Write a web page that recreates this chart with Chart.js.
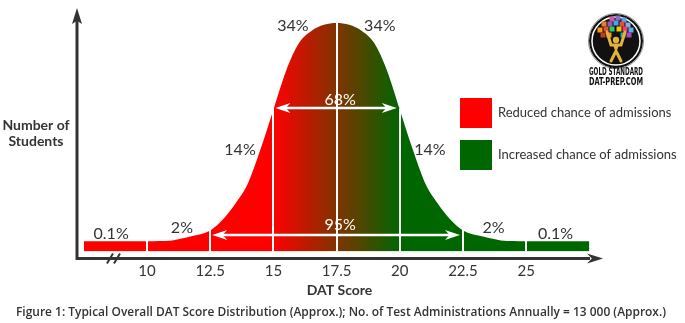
<!DOCTYPE html>
<html>
<head>
<meta charset="utf-8">
<title>DAT Score Distribution</title>
<script src="https://cdn.jsdelivr.net/npm/chart.js@4.4.1/dist/chart.umd.min.js"></script>
<style>
  html, body { margin: 0; padding: 0; background: #fff; }
  #wrap { width: 685px; height: 323px; }
</style>
</head>
<body>
<div id="wrap"><canvas id="datChart" width="685" height="323"></canvas></div>
<script>
// bell curve: DAT score vs relative number of students (peak = 100)
const scores  = [7.5, 10, 10.5, 11, 11.75, 12.5, 13, 13.5, 14, 14.5, 15, 15.5, 16, 16.5, 17, 17.5,
                 18, 18.5, 19, 19.5, 20, 20.5, 21, 21.5, 22, 22.5, 23.25, 24, 24.5, 25, 27.5];
const density = [4.4, 4.4, 4.5, 4.8, 6.6, 9.2, 14, 21, 30, 45, 62, 79, 91, 96.5, 99.2, 100,
                 99.2, 96.5, 91, 79, 62, 45, 30, 21, 14, 9.2, 6.6, 4.8, 4.5, 4.4, 4.4];

const tickScores = [10, 12.5, 15, 17.5, 20, 22.5, 25];
const dividerScores = [10, 12.5, 15, 17.5, 20, 22.5, 25];

const shareLabels = ['0.1%', '2%', '14%', '34%', '34%', '14%', '2%', '0.1%'];
const spanLabels = ['68%', '95%'];
const spanFrom = [15, 12.5];
const spanTo = [20, 22.5];

const legendLabels = ['Reduced chance of admissions', 'Increased chance of admissions'];
const legendColors = ['#ff0000', '#006600'];

const caption = 'Figure 1: Typical Overall DAT Score Distribution (Approx.); No. of Test Administrations Annually = 13 000 (Approx.)';

const INK = '#333333';
Chart.defaults.font.family = 'Lato, "Open Sans", sans-serif';

// red -> green across the middle band
function curveFill(context) {
  const chart = context.chart;
  const x = chart.scales.x;
  if (!chart.chartArea || !x) return '#ff0000';
  const g = chart.ctx.createLinearGradient(x.getPixelForValue(15), 0, x.getPixelForValue(20), 0);
  g.addColorStop(0, '#ff0000');
  g.addColorStop(1, '#006600');
  return g;
}

function arrowHead(ctx, tipX, tipY, dir, len, half) {
  // dir: 'l','r','u'
  ctx.beginPath();
  if (dir === 'l') { ctx.moveTo(tipX, tipY); ctx.lineTo(tipX + len, tipY - half); ctx.lineTo(tipX + len * 0.7, tipY); ctx.lineTo(tipX + len, tipY + half); }
  if (dir === 'r') { ctx.moveTo(tipX, tipY); ctx.lineTo(tipX - len, tipY - half); ctx.lineTo(tipX - len * 0.7, tipY); ctx.lineTo(tipX - len, tipY + half); }
  if (dir === 'u') { ctx.moveTo(tipX, tipY); ctx.lineTo(tipX - half, tipY + len); ctx.lineTo(tipX, tipY + len * 0.8); ctx.lineTo(tipX + half, tipY + len); }
  ctx.closePath();
  ctx.fill();
}

function drawLogo(ctx, cx, cy, r) {
  ctx.save();
  ctx.fillStyle = '#111';
  ctx.beginPath(); ctx.arc(cx, cy, r, 0, Math.PI * 2); ctx.fill();
  ctx.strokeStyle = '#888'; ctx.lineWidth = 1;
  ctx.beginPath(); ctx.arc(cx, cy, r + 0.5, 0, Math.PI * 2); ctx.stroke();
  ctx.strokeStyle = '#fff'; ctx.lineWidth = 1.5;
  ctx.beginPath(); ctx.arc(cx, cy, r - 3, 0, Math.PI * 2); ctx.stroke();

  // canopy of little coloured tiles
  const tiles = [
    [-4, -22, '#d6579b'], [2, -23, '#8c6bd1'], [8, -21, '#5f9ee0'],
    [-12, -17, '#e67e22'], [-6, -17, '#9b59b6'], [0, -18, '#3fa9f5'], [6, -17, '#e74c3c'], [12, -16, '#7fb3e6'],
    [-16, -11, '#f39c12'], [-10, -12, '#e84c3d'], [-4, -12, '#2ecc71'], [3, -12, '#f1c40f'], [9, -12, '#ec407a'], [15, -11, '#5dade2'],
    [-13, -6, '#c0392b'], [-7, -6, '#ff9800'], [7, -6, '#26a69a'], [13, -6, '#ab47bc']
  ];
  tiles.forEach(([dx, dy, c]) => {
    ctx.fillStyle = c;
    ctx.fillRect(cx + dx - 2.5, cy + dy - 2.5, 5, 5);
  });

  // gold figure holding up the tiles
  ctx.fillStyle = '#e3b23c';
  ctx.strokeStyle = '#e3b23c';
  ctx.lineCap = 'round';
  ctx.beginPath(); ctx.arc(cx, cy - 1, 3.2, 0, Math.PI * 2); ctx.fill();
  ctx.lineWidth = 3;
  ctx.beginPath();
  ctx.moveTo(cx - 9, cy - 9); ctx.lineTo(cx - 5, cy + 4); ctx.lineTo(cx + 5, cy + 4); ctx.lineTo(cx + 9, cy - 9);
  ctx.stroke();
  ctx.beginPath();
  ctx.moveTo(cx - 3, cy + 4); ctx.lineTo(cx, cy + 12); ctx.lineTo(cx + 3, cy + 4); ctx.closePath(); ctx.fill();
  ctx.beginPath();
  ctx.moveTo(cx, cy + 10); ctx.lineTo(cx - 5, cy + 20);
  ctx.moveTo(cx, cy + 10); ctx.lineTo(cx + 5, cy + 20);
  ctx.stroke();

  ctx.fillStyle = '#111';
  ctx.font = 'bold 11px "Liberation Sans Narrow", "DejaVu Sans Condensed", sans-serif';
  ctx.textAlign = 'center';
  ctx.textBaseline = 'middle';
  ctx.fillText('GOLD STANDARD', cx, cy + r + 4, 54);
  ctx.fillText('DAT-PREP.COM', cx, cy + r + 14, 54);
  ctx.restore();
}

const annotations = {
  id: 'annotations',
  afterDatasetsDraw(chart) {
    const { ctx, chartArea } = chart;
    const x = chart.scales.x, y = chart.scales.y;
    const pts = chart.getDatasetMeta(0).data;
    ctx.save();

    // white dividers from the base up to the curve
    ctx.strokeStyle = '#ffffff';
    ctx.lineWidth = 2;
    dividerScores.forEach(s => {
      const i = scores.indexOf(s);
      const px = Math.round(x.getPixelForValue(s));
      ctx.beginPath();
      ctx.moveTo(px, chartArea.bottom);
      ctx.lineTo(px, pts[i].y - 1);
      ctx.stroke();
    });

    // span arrows (68% / 95%)
    const spanLevel = [63, 7];
    const labelGap = [8, 10];
    ctx.fillStyle = '#ffffff';
    ctx.lineWidth = 2.5;
    spanLabels.forEach((lab, k) => {
      const x0 = x.getPixelForValue(spanFrom[k]) + 2;
      const x1 = x.getPixelForValue(spanTo[k]) - 3;
      const py = Math.round(y.getPixelForValue(spanLevel[k]));
      ctx.beginPath();
      ctx.moveTo(x0 + 8, py); ctx.lineTo(x1 - 8, py);
      ctx.stroke();
      arrowHead(ctx, x0, py, 'l', 15, 5);
      arrowHead(ctx, x1, py, 'r', 15, 5);
      ctx.font = '16px Lato, sans-serif';
      ctx.textAlign = 'center';
      ctx.textBaseline = 'middle';
      ctx.fillText(lab, (x0 + x1) / 2 + 4, py - labelGap[k]);
    });

    // share of students in each band
    const spots = [[8.58, 7.9], [11.38, 10.5], [13.68, 44.5], [15.77, 98.7],
                   [19.21, 98.7], [21.19, 44.5], [23.71, 10.5], [26.16, 7.9]];
    ctx.fillStyle = INK;
    ctx.font = '16px Lato, sans-serif';
    shareLabels.forEach((lab, k) => {
      ctx.fillText(lab, x.getPixelForValue(spots[k][0]), y.getPixelForValue(spots[k][1]));
    });
    ctx.restore();
  },
  afterDraw(chart) {
    const { ctx, chartArea } = chart;
    const axisY = chartArea.bottom + 7;
    const axisX = chartArea.left;
    ctx.save();

    // axes with arrow heads
    ctx.strokeStyle = INK;
    ctx.fillStyle = INK;
    ctx.lineWidth = 3;
    ctx.beginPath();
    ctx.moveTo(axisX, 20);
    ctx.lineTo(axisX, axisY);
    ctx.lineTo(chartArea.right - 12, axisY);
    ctx.stroke();
    arrowHead(ctx, axisX, 8, 'u', 16, 5);
    arrowHead(ctx, chartArea.right + 1, axisY, 'r', 16, 5);

    // axis break marks
    ctx.lineWidth = 2;
    ctx.beginPath();
    ctx.moveTo(107, axisY + 5); ctx.lineTo(113, axisY - 5);
    ctx.moveTo(114, axisY + 5); ctx.lineTo(120, axisY - 5);
    ctx.stroke();

    // y axis title
    ctx.font = 'bold 14px Lato, sans-serif';
    ctx.textAlign = 'center';
    ctx.textBaseline = 'middle';
    ctx.fillText('Number of', 36, 125);
    ctx.fillText('Students', 36, 141);

    // caption under the chart, spanning the full width
    ctx.font = '600 12px "Open Sans", Lato, sans-serif';
    ctx.fillText(caption, 341, 313, 650);

    // legend
    ctx.font = '13px Lato, sans-serif';
    ctx.textAlign = 'left';
    legendLabels.forEach((lab, k) => {
      const top = 98 + k * 42;
      ctx.fillStyle = legendColors[k];
      ctx.fillRect(460, top, 32, 30);
      ctx.fillStyle = INK;
      ctx.fillText(lab, 498, top + 15);
    });

    drawLogo(ctx, 616, 41, 27);
    ctx.restore();
  }
};

new Chart(document.getElementById('datChart'), {
  type: 'line',
  data: {
    datasets: [{
      data: scores.map((s, i) => ({ x: s, y: density[i] })),
      backgroundColor: curveFill,
      borderWidth: 0,
      pointRadius: 0,
      fill: 'origin',
      cubicInterpolationMode: 'monotone',
      clip: false
    }]
  },
  options: {
    responsive: false,
    animation: false,
    devicePixelRatio: 1,
    layout: { padding: { left: 77, right: 83, top: 23, bottom: 18 } },
    plugins: {
      legend: { display: false },
      tooltip: { enabled: false }
    },
    scales: {
      x: {
        type: 'linear',
        min: 7.23,
        max: 28.0,
        grid: { display: false, drawTicks: false },
        border: { display: false },
        afterBuildTicks: axis => { axis.ticks = tickScores.map(v => ({ value: v })); },
        ticks: {
          padding: 11,
          color: INK,
          font: { size: 15 },
          autoSkip: false,
          maxRotation: 0,
          callback: v => String(v)
        },
        title: {
          display: true,
          text: 'DAT Score',
          color: INK,
          font: { size: 14, weight: 'bold' },
          padding: { top: -9.4, bottom: 6.2 }
        }
      },
      y: {
        display: false,
        min: 0,
        max: 100
      }
    }
  },
  plugins: [annotations]
});
</script>
</body>
</html>
